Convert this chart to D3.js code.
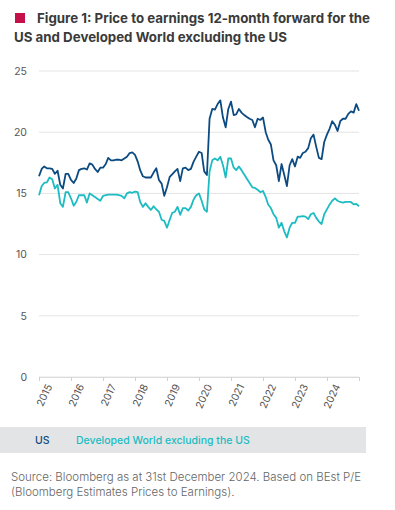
<!DOCTYPE html>
<html>
<head>
<meta charset="utf-8">
<script src="https://cdn.jsdelivr.net/npm/d3@7"></script>
<style>
  body { margin: 0; background: #fff; }
  svg { display: block; font-family: Inter, "Noto Sans", sans-serif; }
</style>
</head>
<body>
<svg id="chart" width="395" height="510"></svg>
<script>
// Monthly P/E readings, Jan 2015 .. Dec 2024, plus the 31 Dec 2024 close
var usValues = [
  16.4, 17.0, 17.2, 17.05, 17.05, 17.0, 16.6, 16.85, 15.7, 15.4, 16.6, 16.6,
  16.1, 15.85, 16.2, 16.9, 17.0, 17.05, 16.95, 17.45, 17.35, 17.0, 16.75, 17.1,
  17.1, 17.4, 17.9, 17.7, 17.7, 17.75, 17.75, 17.7, 17.85, 18.0, 18.3, 18.35,
  18.15, 17.6, 16.9, 16.4, 16.3, 16.3, 16.3, 16.7, 17.05, 16.1, 15.8, 14.8,
  15.5, 16.35, 16.55, 16.8, 17.0, 16.0, 17.05, 17.1, 16.9, 17.0, 17.6, 18.0,
  18.4, 18.3, 16.8, 16.5, 21.1, 21.9, 21.85, 22.3, 22.6, 21.2, 20.4, 21.9,
  22.5, 21.4, 21.45, 21.9, 21.6, 21.4, 21.25, 21.1, 21.0, 20.4, 21.1, 21.0,
  21.2, 20.0, 19.4, 19.0, 17.7, 17.3, 16.0, 17.4, 16.5, 15.6, 17.3, 17.8,
  17.2, 18.0, 17.9, 18.3, 18.4, 18.7, 19.5, 19.8, 18.8, 17.9, 17.8, 19.2,
  19.8, 20.3, 20.9, 20.6, 20.1, 20.9, 21.1, 21.1, 21.5, 21.7, 21.6, 22.3,
  21.75
];
var dwValues = [
  14.85, 15.6, 15.85, 15.9, 16.3, 16.15, 15.4, 15.7, 14.2, 13.9, 15.1, 15.1,
  14.6, 14.0, 14.3, 14.85, 14.85, 14.85, 14.25, 15.0, 14.85, 14.7, 14.55, 14.4,
  14.8, 14.85, 14.9, 14.9, 14.9, 14.9, 14.85, 14.8, 14.6, 15.0, 15.1, 15.05,
  15.15, 15.1, 14.3, 13.9, 14.2, 13.9, 13.65, 13.95, 13.7, 13.5, 12.85, 12.75,
  12.2, 12.85, 13.4, 13.5, 13.9, 13.25, 13.8, 13.8, 13.6, 13.9, 14.5, 14.85,
  15.0, 14.4, 13.7, 13.5, 16.8, 17.7, 17.85, 17.7, 18.0, 17.3, 16.3, 17.85,
  17.85, 17.1, 16.9, 17.2, 16.9, 16.55, 16.2, 15.85, 15.5, 15.45, 15.3, 15.1,
  15.2, 14.7, 14.1, 13.8, 13.3, 13.0, 12.2, 12.6, 11.9, 11.4, 12.2, 12.6,
  12.6, 13.1, 13.1, 13.15, 13.1, 12.9, 13.3, 13.4, 13.0, 12.7, 12.5, 13.3,
  13.7, 14.1, 14.4, 14.6, 14.4, 14.3, 14.25, 14.3, 14.3, 14.3, 14.1, 14.15,
  13.95
];
var yTicks = [0, 5, 10, 15, 20, 25];
var yearTicks = [2015, 2016, 2017, 2018, 2019, 2020, 2021, 2022, 2023, 2024];
var seriesNames = ["US", "Developed World excluding the US"];
var seriesColors = ["#0c4a82", "#1cbcc2"];
var titleLines = [
  "Figure 1: Price to earnings 12-month forward for the",
  "US and Developed World excluding the US"
];
var sourceLines = [
  "Source: Bloomberg as at 31st December 2024. Based on BEst P/E",
  "(Bloomberg Estimates Prices to Earnings)."
];

var dates = d3.timeMonth.range(new Date(2015, 0, 1), new Date(2025, 0, 2));

var svg = d3.select("#chart");
var margin = { left: 39, right: 36, top: 71, bottom: 133 };
var width = 395 - margin.left - margin.right;
var height = 510 - margin.top - margin.bottom;

// title
svg.append("rect")
  .attr("x", 15).attr("y", 13).attr("width", 10).attr("height", 10)
  .attr("fill", "#c5104a");
svg.append("g").selectAll("text")
  .data(titleLines)
  .enter().append("text")
  .attr("x", function(d, i) { return i === 0 ? 37 : 14; })
  .attr("y", function(d, i) { return 23 + i * 19; })
  .attr("font-size", 13.3)
  .attr("font-weight", 700)
  .attr("fill", "#3a3a3a")
  .text(function(d) { return d; });

var g = svg.append("g")
  .attr("transform", "translate(" + margin.left + "," + margin.top + ")");

var x = d3.scaleTime()
  .domain([new Date(2015, 0, 1), new Date(2025, 0, 1)])
  .range([0, width]);
var y = d3.scaleLinear().domain([0, 25]).range([height, 0]);

// gridlines
g.append("g")
  .selectAll("line")
  .data(yTicks)
  .enter().append("line")
  .attr("x1", 0).attr("x2", width)
  .attr("y1", function(d) { return y(d); })
  .attr("y2", function(d) { return y(d); })
  .attr("stroke", "#e4e4e4")
  .attr("stroke-width", 1);

// y axis labels
var yAxis = d3.axisLeft(y).tickValues(yTicks).tickSize(0).tickPadding(12);
g.append("g").call(yAxis)
  .call(function(s) { s.select(".domain").remove(); })
  .selectAll("text")
  .attr("font-family", "Inter, sans-serif")
  .attr("font-size", 10.5)
  .attr("fill", "#555");

// x axis
var xTickDates = yearTicks.map(function(yr) { return new Date(yr, 0, 1); })
  .concat([new Date(2025, 0, 1)]);
var xAxis = d3.axisBottom(x)
  .tickValues(xTickDates)
  .tickSize(4)
  .tickFormat(function(d) { return d.getFullYear() < 2025 ? d.getFullYear() : ""; });
var xg = g.append("g")
  .attr("transform", "translate(0," + height + ")")
  .call(xAxis);
xg.select(".domain").attr("stroke", "#dcdcdc");
xg.selectAll(".tick line").attr("stroke", "#d0d0d0");
xg.selectAll("text")
  .attr("font-family", "Inter, sans-serif")
  .attr("font-size", 10.3)
  .attr("fill", "#555")
  .attr("text-anchor", "end")
  .attr("dx", "0.25em")
  .attr("dy", "0.6em")
  .attr("transform", "translate(0,6) rotate(-65)");

// lines
var line = d3.line()
  .x(function(d, i) { return x(dates[i]); })
  .y(function(d) { return y(d); });

[dwValues, usValues].forEach(function(vals, k) {
  g.append("path")
    .datum(vals)
    .attr("fill", "none")
    .attr("stroke", k === 0 ? seriesColors[1] : seriesColors[0])
    .attr("stroke-width", 1.8)
    .attr("stroke-linejoin", "round")
    .attr("d", line);
});

// legend band
svg.append("rect")
  .attr("x", 0).attr("y", 427).attr("width", 366).attr("height", 26)
  .attr("fill", "#e3e4e6");
var legendX = [35, 76];
svg.append("g").selectAll("text")
  .data(seriesNames)
  .enter().append("text")
  .attr("x", function(d, i) { return legendX[i]; })
  .attr("y", 443.5)
  .attr("font-size", 10.5)
  .attr("font-weight", 500)
  .attr("fill", function(d, i) { return seriesColors[i]; })
  .text(function(d) { return d; });

// source
svg.append("g").selectAll("text")
  .data(sourceLines)
  .enter().append("text")
  .attr("x", 11)
  .attr("y", function(d, i) { return 481 + i * 15; })
  .attr("font-size", 11.5)
  .attr("font-weight", 300)
  .attr("fill", "#666")
  .text(function(d) { return d; });
</script>
</body>
</html>
